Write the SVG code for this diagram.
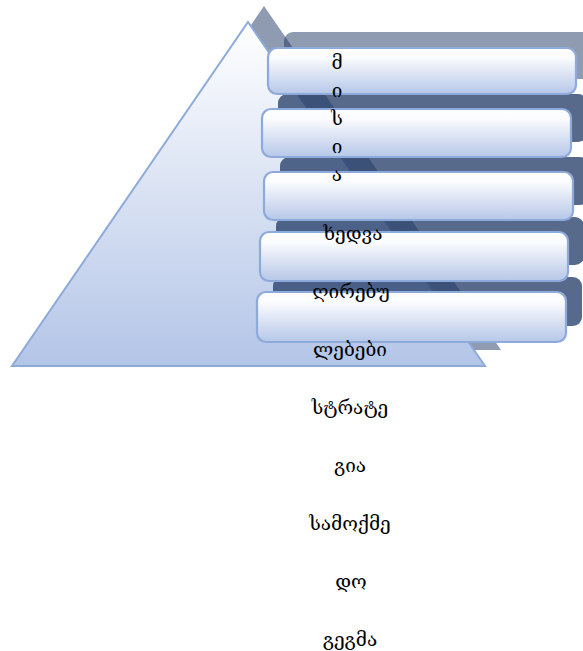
<svg xmlns="http://www.w3.org/2000/svg" width="583" height="651" viewBox="0 0 583 651">
  <defs>
    <linearGradient id="triGrad" x1="0" y1="0" x2="0" y2="1">
      <stop offset="0" stop-color="#ffffff"/>
      <stop offset="1" stop-color="#b3c5e7"/>
    </linearGradient>
    <linearGradient id="boxGrad" x1="0" y1="0" x2="0" y2="1">
      <stop offset="0" stop-color="#ffffff"/>
      <stop offset="0.2" stop-color="#fbfcfe"/>
      <stop offset="1" stop-color="#b6c7e8"/>
    </linearGradient>
    <style>
      .tri { fill: url(#triGrad); stroke: #8eaadb; stroke-width: 2; stroke-linejoin: miter; }
      .triShadow { fill: #1f3864; fill-opacity: 0.5; }
      .box { fill: url(#boxGrad); stroke: #8eaadb; stroke-width: 2.2; }
      .shLight { fill: #1f3864; fill-opacity: 0.5; }
      .shDark { fill: #1f3864; fill-opacity: 0.75; }
      .t { font-family: "DejaVu Serif", "DejaVu Sans", serif; font-size: 19px; fill: #000000; text-anchor: middle; }
    </style>
  </defs>
  <rect width="583" height="651" fill="#ffffff"/>

  <g id="pyramid">
    <polygon class="triShadow" points="264,6 501,350 28,350"/>
    <polygon class="tri" points="248,22 485,366 12,366"/>
  </g>

  <g id="level5">
    <rect class="shDark" x="273" y="277" width="309" height="49" rx="9"/>
    <rect class="box" x="257" y="292" width="309" height="50" rx="9"/>
  </g>
  <g id="level4">
    <rect class="shDark" x="276" y="217" width="308" height="48" rx="9"/>
    <rect class="box" x="260" y="232" width="308" height="49" rx="9"/>
  </g>
  <g id="level3">
    <rect class="shDark" x="280" y="157" width="309" height="48" rx="9"/>
    <rect class="box" x="264" y="172" width="309" height="48" rx="9"/>
  </g>
  <g id="level2">
    <rect class="shDark" x="278" y="94" width="309" height="48" rx="9"/>
    <rect class="box" x="262" y="109" width="309" height="48" rx="9"/>
  </g>
  <g id="level1">
    <rect class="shLight" x="284" y="32" width="308" height="47" rx="9"/>
    <rect class="box" x="268" y="48" width="308" height="46" rx="9"/>
  </g>

  <g id="pyramid-text">
    <text class="t" x="337" y="69">მ</text>
    <text class="t" x="337" y="97">ი</text>
    <text class="t" x="337" y="125">ს</text>
    <text class="t" x="337" y="153">ი</text>
    <text class="t" x="337" y="181">ა</text>
    <text class="t" x="353" y="240">ხედვა</text>
    <text class="t" x="351" y="298">ღირებუ</text>
    <text class="t" x="350" y="356">ლებები</text>
    <text class="t" x="350" y="414">სტრატე</text>
    <text class="t" x="350" y="472">გია</text>
    <text class="t" x="350" y="530">სამოქმე</text>
    <text class="t" x="351" y="588">დო</text>
    <text class="t" x="350" y="646">გეგმა</text>
  </g>
</svg>
